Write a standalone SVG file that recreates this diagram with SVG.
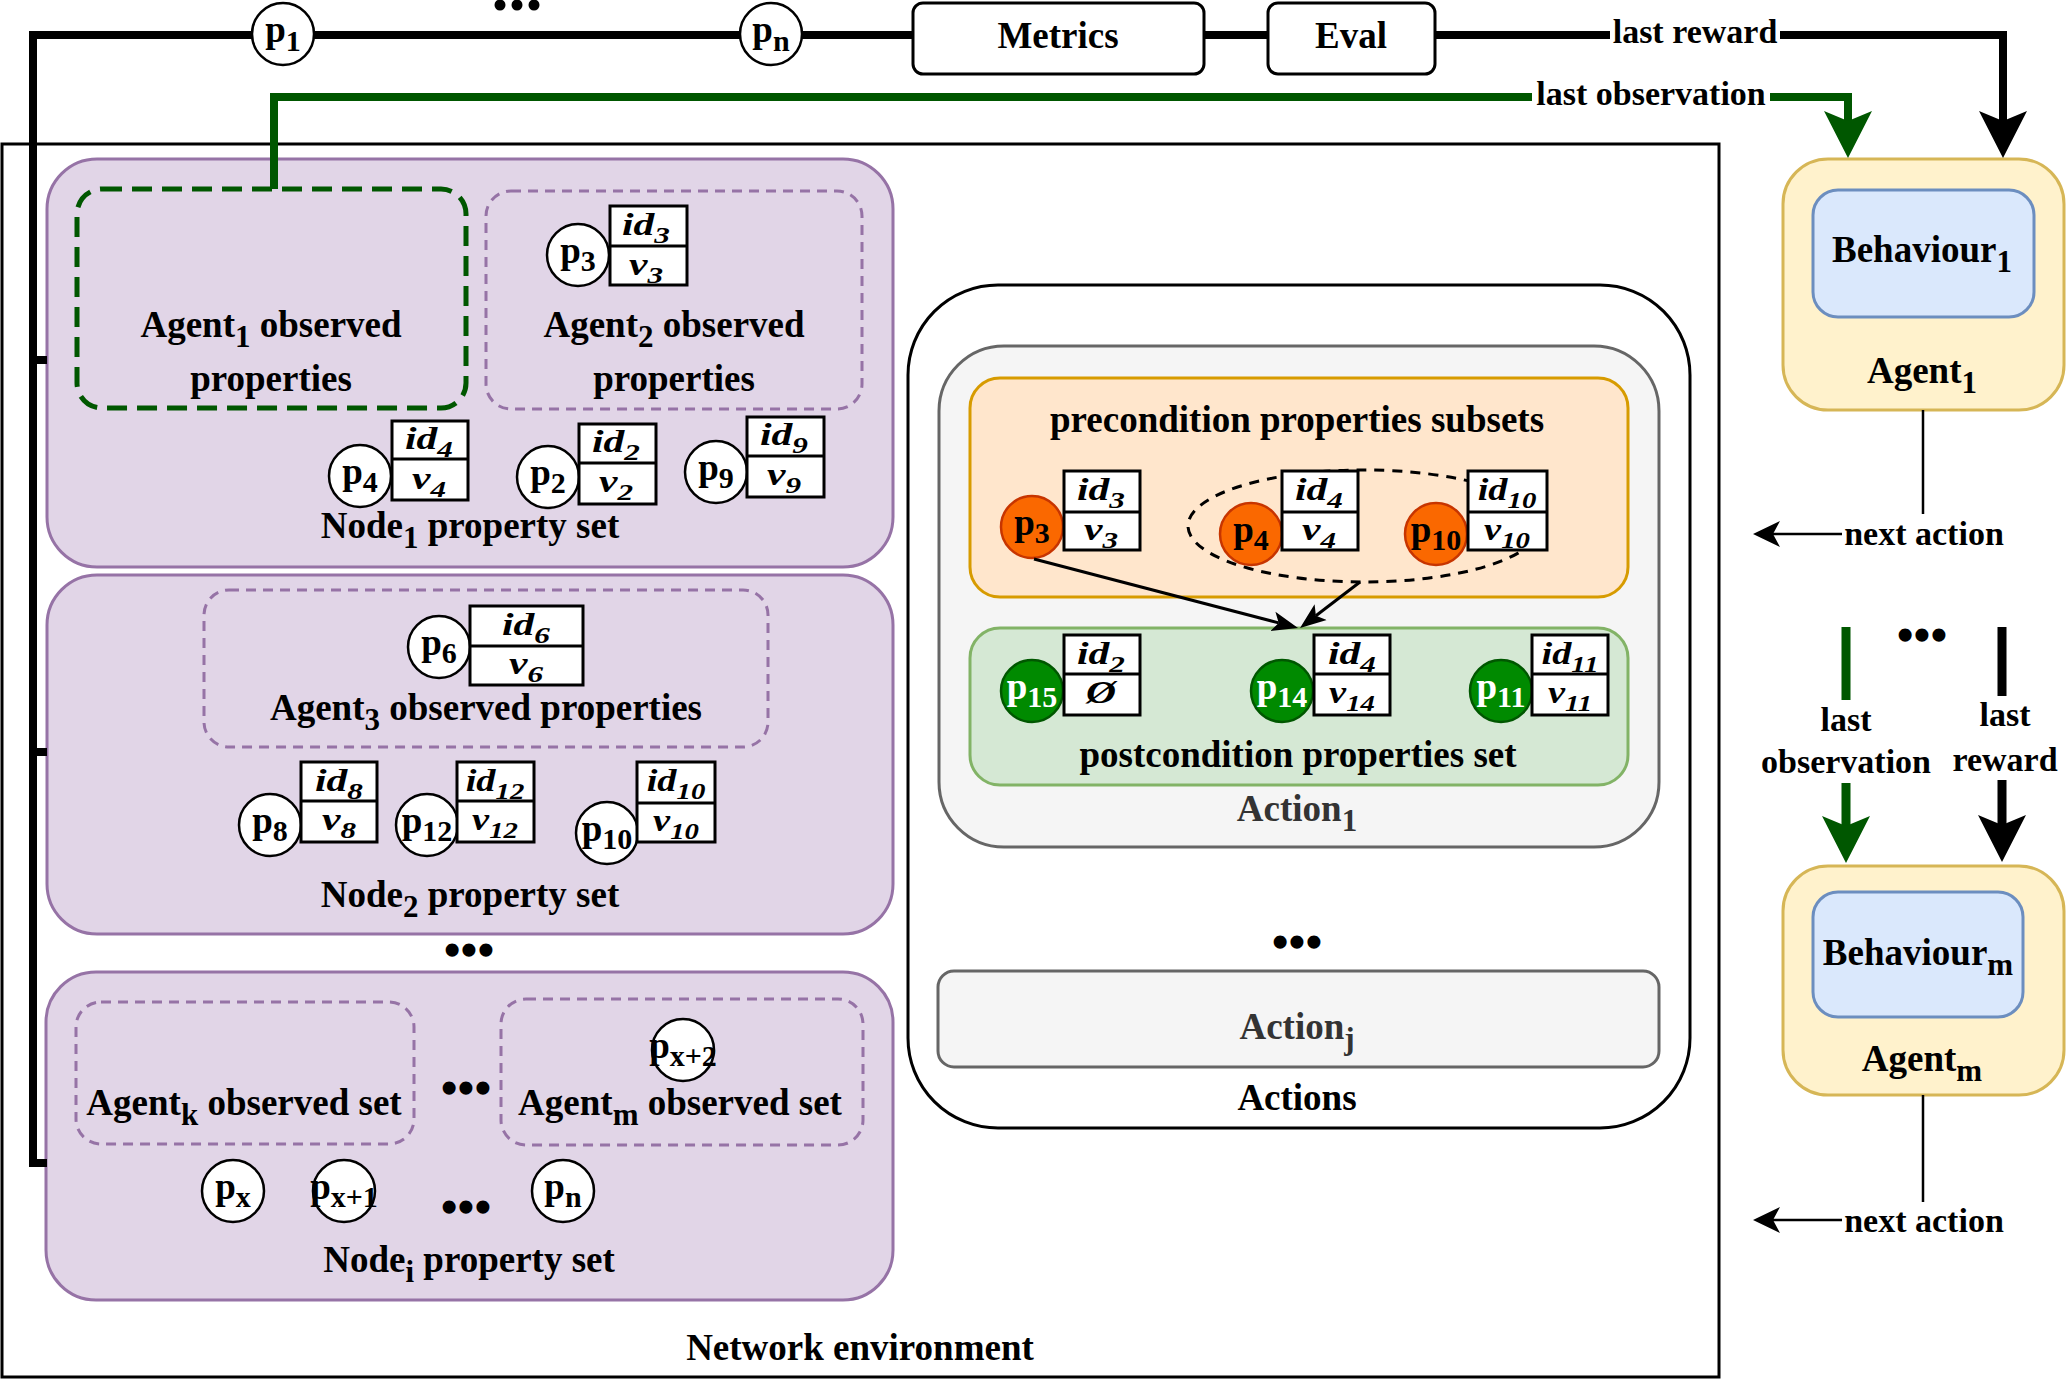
<svg xmlns="http://www.w3.org/2000/svg" width="2066" height="1380" viewBox="0 0 2066 1380">
<defs>
<style>
text{font-family:"Liberation Serif","Times New Roman",serif;font-weight:bold;fill:#000}
.lbl{font-size:37px;text-anchor:middle}
.edge{font-size:34px;text-anchor:middle}
.sub{font-size:31px}
.pt{font-size:37px;text-anchor:middle}
.ps{font-size:30px}
.tt{font-size:32px;font-style:italic;text-anchor:middle}
.ts{font-size:24px}
.gray{fill:#333}
.wt{fill:#fff}
.dots{font-size:48px;text-anchor:middle}
.nbox{fill:#e1d5e7;stroke:#9673a6;stroke-width:3}
.dp{fill:none;stroke:#9673a6;stroke-width:3;stroke-dasharray:10 7}
.dg{fill:none;stroke:#005700;stroke-width:5;stroke-dasharray:20 10}
.pc{fill:#fff;stroke:#000;stroke-width:2.5}
.oc{fill:#fa6800;stroke:#c73500;stroke-width:2.5}
.gc{fill:#008a00;stroke:#005700;stroke-width:2.5}
.tbl{fill:#fff;stroke:#000;stroke-width:3}
.bg{fill:#fff;stroke:none}
</style>
<marker id="ahBlack" viewBox="0 -25 50 50" markerWidth="50" markerHeight="50" refX="10" refY="0" orient="auto" markerUnits="userSpaceOnUse"><path d="M0,-24 L47,0 L0,24 L10,0 Z" fill="#000"/></marker>
<marker id="ahGreen" viewBox="0 -25 50 50" markerWidth="50" markerHeight="50" refX="10" refY="0" orient="auto" markerUnits="userSpaceOnUse"><path d="M0,-24 L47,0 L0,24 L10,0 Z" fill="#005700"/></marker>
<marker id="ahMid" viewBox="0 -14 30 28" markerWidth="30" markerHeight="28" refX="7" refY="0" orient="auto" markerUnits="userSpaceOnUse"><path d="M0,-13 L27,0 L0,13 L7,0 Z" fill="#000"/></marker>
<marker id="ahSmall" viewBox="0 -11 28 22" markerWidth="28" markerHeight="22" refX="6" refY="0" orient="auto" markerUnits="userSpaceOnUse"><path d="M0,-10 L26,0 L0,10 L6,0 Z" fill="#000"/></marker>
</defs>

<g id="network-environment">
<rect x="2" y="144" width="1717" height="1233" fill="#fff" stroke="#000" stroke-width="3"/>
<text class="lbl" x="860" y="1360">Network environment</text>
</g>

<g id="node1">
<rect class="nbox" x="47" y="159" width="846" height="408" rx="50"/>
<g id="agent1-observed">
<rect class="dg" x="77" y="189" width="389" height="219" rx="25"/>
<text class="lbl" x="271" y="337">Agent<tspan class="sub" dy="10">1</tspan><tspan dy="-10"> observed</tspan></text>
<text class="lbl" x="271" y="391">properties</text>
</g>
<g id="agent2-observed">
<rect class="dp" x="486" y="191" width="376" height="218" rx="25"/>
<text class="lbl" x="674" y="337">Agent<tspan class="sub" dy="10">2</tspan><tspan dy="-10"> observed</tspan></text>
<text class="lbl" x="674" y="391">properties</text>
<g id="n1-p3">
<circle class="pc" cx="578" cy="255" r="31"/>
<text class="pt" x="578" y="263">p<tspan class="ps" dy="8">3</tspan></text>
<rect class="tbl" x="610" y="206" width="77" height="79"/><line x1="610" y1="246" x2="687" y2="246" stroke="#000" stroke-width="3"/>
<text class="tt" transform="matrix(1.3 0 0 1 646 0)" x="0" y="235">id<tspan class="ts" dy="8">3</tspan></text>
<text class="tt" transform="matrix(1.3 0 0 1 646 0)" x="0" y="275">v<tspan class="ts" dy="8">3</tspan></text>
</g>
</g>
<g id="n1-p4">
<circle class="pc" cx="360" cy="476" r="31"/>
<text class="pt" x="360" y="484">p<tspan class="ps" dy="8">4</tspan></text>
<rect class="tbl" x="392" y="421" width="76" height="79"/><line x1="392" y1="459" x2="468" y2="459" stroke="#000" stroke-width="3"/>
<text class="tt" transform="matrix(1.3 0 0 1 429 0)" x="0" y="449">id<tspan class="ts" dy="8">4</tspan></text>
<text class="tt" transform="matrix(1.3 0 0 1 429 0)" x="0" y="489">v<tspan class="ts" dy="8">4</tspan></text>
</g>
<g id="n1-p2">
<circle class="pc" cx="548" cy="477" r="31"/>
<text class="pt" x="548" y="485">p<tspan class="ps" dy="8">2</tspan></text>
<rect class="tbl" x="579" y="424" width="77" height="80"/><line x1="579" y1="463" x2="656" y2="463" stroke="#000" stroke-width="3"/>
<text class="tt" transform="matrix(1.3 0 0 1 616 0)" x="0" y="452">id<tspan class="ts" dy="8">2</tspan></text>
<text class="tt" transform="matrix(1.3 0 0 1 616 0)" x="0" y="492">v<tspan class="ts" dy="8">2</tspan></text>
</g>
<g id="n1-p9">
<circle class="pc" cx="716" cy="472" r="31"/>
<text class="pt" x="716" y="480">p<tspan class="ps" dy="8">9</tspan></text>
<rect class="tbl" x="747" y="417" width="77" height="80"/><line x1="747" y1="456" x2="824" y2="456" stroke="#000" stroke-width="3"/>
<text class="tt" transform="matrix(1.3 0 0 1 784 0)" x="0" y="445">id<tspan class="ts" dy="8">9</tspan></text>
<text class="tt" transform="matrix(1.3 0 0 1 784 0)" x="0" y="485">v<tspan class="ts" dy="8">9</tspan></text>
</g>
<text class="lbl" x="470" y="538">Node<tspan class="sub" dy="10">1</tspan><tspan dy="-10"> property set</tspan></text>
</g>

<g id="node2">
<rect class="nbox" x="47" y="575" width="846" height="359" rx="50"/>
<g id="agent3-observed">
<rect class="dp" x="204" y="590" width="564" height="157" rx="25"/>
<g id="n2-p6">
<circle class="pc" cx="439" cy="647" r="31"/>
<text class="pt" x="439" y="655">p<tspan class="ps" dy="8">6</tspan></text>
<rect class="tbl" x="470" y="606" width="113" height="79"/><line x1="470" y1="646" x2="583" y2="646" stroke="#000" stroke-width="3"/>
<text class="tt" transform="matrix(1.3 0 0 1 526 0)" x="0" y="635">id<tspan class="ts" dy="8">6</tspan></text>
<text class="tt" transform="matrix(1.3 0 0 1 526 0)" x="0" y="674">v<tspan class="ts" dy="8">6</tspan></text>
</g>
<text class="lbl" x="486" y="720">Agent<tspan class="sub" dy="10">3</tspan><tspan dy="-10"> observed properties</tspan></text>
</g>
<g id="n2-p8">
<circle class="pc" cx="270" cy="825" r="31"/>
<text class="pt" x="270" y="833">p<tspan class="ps" dy="8">8</tspan></text>
<rect class="tbl" x="301" y="762" width="76" height="80"/><line x1="301" y1="801" x2="377" y2="801" stroke="#000" stroke-width="3"/>
<text class="tt" transform="matrix(1.3 0 0 1 339 0)" x="0" y="791">id<tspan class="ts" dy="8">8</tspan></text>
<text class="tt" transform="matrix(1.3 0 0 1 339 0)" x="0" y="830">v<tspan class="ts" dy="8">8</tspan></text>
</g>
<g id="n2-p12">
<circle class="pc" cx="427" cy="825" r="31"/>
<text class="pt" x="427" y="833">p<tspan class="ps" dy="8">12</tspan></text>
<rect class="tbl" x="457" y="762" width="77" height="80"/><line x1="457" y1="801" x2="534" y2="801" stroke="#000" stroke-width="3"/>
<text class="tt" transform="matrix(1.2 0 0 1 495 0)" x="0" y="791">id<tspan class="ts" dy="8">12</tspan></text>
<text class="tt" transform="matrix(1.2 0 0 1 495 0)" x="0" y="830">v<tspan class="ts" dy="8">12</tspan></text>
</g>
<g id="n2-p10">
<circle class="pc" cx="607" cy="833" r="31"/>
<text class="pt" x="607" y="841">p<tspan class="ps" dy="8">10</tspan></text>
<rect class="tbl" x="637" y="762" width="78" height="80"/><line x1="637" y1="803" x2="715" y2="803" stroke="#000" stroke-width="3"/>
<text class="tt" transform="matrix(1.2 0 0 1 676 0)" x="0" y="791">id<tspan class="ts" dy="8">10</tspan></text>
<text class="tt" transform="matrix(1.2 0 0 1 676 0)" x="0" y="831">v<tspan class="ts" dy="8">10</tspan></text>
</g>
<text class="lbl" x="470" y="907">Node<tspan class="sub" dy="10">2</tspan><tspan dy="-10"> property set</tspan></text>
</g>

<text class="dots" x="469" y="966">•••</text>

<g id="nodei">
<rect class="nbox" x="46" y="972" width="847" height="328" rx="50"/>
<g id="agentk-observed">
<rect class="dp" x="76" y="1002" width="338" height="142" rx="25"/>
<text class="lbl" x="244" y="1115">Agent<tspan class="sub" dy="10">k</tspan><tspan dy="-10"> observed set</tspan></text>
</g>
<text class="dots" x="466" y="1104">•••</text>
<g id="agentm-observed">
<rect class="dp" x="501" y="999" width="362" height="146" rx="25"/>
<text class="lbl" x="680" y="1115">Agent<tspan class="sub" dy="10">m</tspan><tspan dy="-10"> observed set</tspan></text>
<g id="ni-px2">
<circle class="pc" cx="683" cy="1050" r="31"/>
<text class="pt" x="683" y="1058">p<tspan class="ps" font-size="24" dy="8">x+2</tspan></text>
</g>
</g>
<g id="ni-px">
<circle class="pc" cx="233" cy="1191" r="31"/>
<text class="pt" x="233" y="1199">p<tspan class="ps" dy="8">x</tspan></text>
</g>
<g id="ni-px1">
<circle class="pc" cx="344" cy="1191" r="31"/>
<text class="pt" x="344" y="1199">p<tspan class="ps" font-size="24" dy="8">x+1</tspan></text>
</g>
<text class="dots" x="466" y="1223">•••</text>
<g id="ni-pn">
<circle class="pc" cx="563" cy="1191" r="31"/>
<text class="pt" x="563" y="1199">p<tspan class="ps" dy="8">n</tspan></text>
</g>
<text class="lbl" x="469" y="1272">Node<tspan class="sub" dy="10">i</tspan><tspan dy="-10"> property set</tspan></text>
</g>

<g id="actions">
<rect x="908" y="285" width="782" height="843" rx="90" fill="#fff" stroke="#000" stroke-width="3"/>
<g id="action1">
<rect x="939" y="346" width="720" height="501" rx="65" fill="#f5f5f5" stroke="#666" stroke-width="3"/>
<g id="precondition">
<rect x="970" y="378" width="658" height="219" rx="30" fill="#ffe6cc" stroke="#d79b00" stroke-width="3"/>
<text class="lbl" x="1297" y="432">precondition properties subsets</text>
<ellipse cx="1364" cy="526" rx="176" ry="56" fill="none" stroke="#000" stroke-width="3" stroke-dasharray="10 8"/>
<g id="pre-p3">
<circle class="oc" cx="1032" cy="527" r="31"/>
<text class="pt" x="1032" y="535">p<tspan class="ps" dy="8">3</tspan></text>
<rect class="tbl" x="1064" y="471" width="76" height="79"/><line x1="1064" y1="512" x2="1140" y2="512" stroke="#000" stroke-width="3"/>
<text class="tt" transform="matrix(1.3 0 0 1 1101 0)" x="0" y="500">id<tspan class="ts" dy="8">3</tspan></text>
<text class="tt" transform="matrix(1.3 0 0 1 1101 0)" x="0" y="540">v<tspan class="ts" dy="8">3</tspan></text>
</g>
<g id="pre-p4">
<circle class="oc" cx="1251" cy="534" r="31"/>
<text class="pt" x="1251" y="542">p<tspan class="ps" dy="8">4</tspan></text>
<rect class="tbl" x="1282" y="471" width="76" height="79"/><line x1="1282" y1="512" x2="1358" y2="512" stroke="#000" stroke-width="3"/>
<text class="tt" transform="matrix(1.3 0 0 1 1319 0)" x="0" y="500">id<tspan class="ts" dy="8">4</tspan></text>
<text class="tt" transform="matrix(1.3 0 0 1 1319 0)" x="0" y="540">v<tspan class="ts" dy="8">4</tspan></text>
</g>
<g id="pre-p10">
<circle class="oc" cx="1436" cy="534" r="31"/>
<text class="pt" x="1436" y="542">p<tspan class="ps" dy="8">10</tspan></text>
<rect class="tbl" x="1468" y="471" width="79" height="79"/><line x1="1468" y1="512" x2="1547" y2="512" stroke="#000" stroke-width="3"/>
<text class="tt" transform="matrix(1.2 0 0 1 1507 0)" x="0" y="500">id<tspan class="ts" dy="8">10</tspan></text>
<text class="tt" transform="matrix(1.2 0 0 1 1507 0)" x="0" y="540">v<tspan class="ts" dy="8">10</tspan></text>
</g>
</g>
<g id="postcondition">
<rect x="970" y="628" width="658" height="157" rx="30" fill="#d5e8d4" stroke="#82b366" stroke-width="3"/>
<g id="post-p15">
<circle class="gc" cx="1032" cy="691" r="31"/>
<text class="pt wt" x="1032" y="699">p<tspan class="ps" dy="8">15</tspan></text>
<rect class="tbl" x="1064" y="635" width="76" height="80"/><line x1="1064" y1="674" x2="1140" y2="674" stroke="#000" stroke-width="3"/>
<text class="tt" transform="matrix(1.3 0 0 1 1101 0)" x="0" y="664">id<tspan class="ts" dy="8">2</tspan></text>
<text class="tt" transform="matrix(1.3 0 0 1 1101 0)" x="0" y="703">Ø</text>
</g>
<g id="post-p14">
<circle class="gc" cx="1282" cy="691" r="31"/>
<text class="pt wt" x="1282" y="699">p<tspan class="ps" dy="8">14</tspan></text>
<rect class="tbl" x="1314" y="635" width="76" height="80"/><line x1="1314" y1="674" x2="1390" y2="674" stroke="#000" stroke-width="3"/>
<text class="tt" transform="matrix(1.3 0 0 1 1352 0)" x="0" y="664">id<tspan class="ts" dy="8">4</tspan></text>
<text class="tt" transform="matrix(1.2 0 0 1 1352 0)" x="0" y="703">v<tspan class="ts" dy="8">14</tspan></text>
</g>
<g id="post-p11">
<circle class="gc" cx="1501" cy="691" r="31"/>
<text class="pt wt" x="1501" y="699">p<tspan class="ps" dy="8">11</tspan></text>
<rect class="tbl" x="1532" y="635" width="76" height="80"/><line x1="1532" y1="674" x2="1608" y2="674" stroke="#000" stroke-width="3"/>
<text class="tt" transform="matrix(1.2 0 0 1 1570 0)" x="0" y="664">id<tspan class="ts" dy="8">11</tspan></text>
<text class="tt" transform="matrix(1.2 0 0 1 1570 0)" x="0" y="703">v<tspan class="ts" dy="8">11</tspan></text>
</g>
<text class="lbl" x="1298" y="767">postcondition properties set</text>
</g>
<text class="lbl gray" x="1297" y="821">Action<tspan class="sub" dy="10">1</tspan></text>
</g>
<text class="dots" x="1297" y="958">•••</text>
<g id="actionj">
<rect x="938" y="971" width="721" height="96" rx="16" fill="#f5f5f5" stroke="#666" stroke-width="3"/>
<text class="lbl gray" x="1297" y="1039">Action<tspan class="sub" dy="10">j</tspan></text>
</g>
<text class="lbl" x="1297" y="1110">Actions</text>
</g>

<g id="agent1">
<rect x="1783" y="159" width="281" height="251" rx="45" fill="#fff2cc" stroke="#d6b656" stroke-width="3"/>
<g id="behaviour1">
<rect x="1813" y="190" width="221" height="127" rx="25" fill="#dae8fc" stroke="#6c8ebf" stroke-width="3"/>
<text class="lbl" x="1922" y="262">Behaviour<tspan class="sub" dy="10">1</tspan></text>
</g>
<text class="lbl" x="1922" y="383">Agent<tspan class="sub" dy="10">1</tspan></text>
</g>

<g id="agentm">
<rect x="1783" y="866" width="281" height="229" rx="45" fill="#fff2cc" stroke="#d6b656" stroke-width="3"/>
<g id="behaviourm">
<rect x="1813" y="892" width="210" height="125" rx="25" fill="#dae8fc" stroke="#6c8ebf" stroke-width="3"/>
<text class="lbl" x="1918" y="965">Behaviour<tspan class="sub" dy="10">m</tspan></text>
</g>
<text class="lbl" x="1922" y="1071">Agent<tspan class="sub" dy="10">m</tspan></text>
</g>

<g id="connectors" fill="none">
<path d="M47 1163 H33 V35 H913" stroke="#000" stroke-width="8"/>
<path d="M33 360 H47 M33 752 H47" stroke="#000" stroke-width="8"/>
<path d="M1204 35 H1268" stroke="#000" stroke-width="8"/>
<path d="M1435 35 H2003 V121" stroke="#000" stroke-width="8" marker-end="url(#ahBlack)"/>
<path d="M274 189 V97 H1848 V121" stroke="#005700" stroke-width="8" marker-end="url(#ahGreen)"/>
<path d="M1034 559 L1278.7 622.9" stroke="#000" stroke-width="3" marker-end="url(#ahSmall)"/>
<path d="M1360 582 L1315.9 615.8" stroke="#000" stroke-width="3" marker-end="url(#ahSmall)"/>
<path d="M1923 410 V534 H1773" stroke="#000" stroke-width="2.5" marker-end="url(#ahMid)"/>
<path d="M1923 1095 V1220 H1773" stroke="#000" stroke-width="2.5" marker-end="url(#ahMid)"/>
<path d="M1846 627 V826" stroke="#005700" stroke-width="9" marker-end="url(#ahGreen)"/>
<path d="M2002 627 V825" stroke="#000" stroke-width="9" marker-end="url(#ahBlack)"/>
<rect class="bg" x="1610" y="14" width="170" height="40"/>
<text class="edge" x="1695" y="43">last reward</text>
<rect class="bg" x="1532" y="78" width="238" height="38"/>
<text class="edge" x="1651" y="105">last observation</text>
<rect class="bg" x="1842" y="514" width="164" height="40"/>
<text class="edge" x="1924" y="545">next action</text>
<rect class="bg" x="1842" y="1202" width="164" height="40"/>
<text class="edge" x="1924" y="1232">next action</text>
<rect class="bg" x="1758" y="700" width="176" height="83"/>
<text class="edge" x="1846" y="731">last</text>
<text class="edge" x="1846" y="773">observation</text>
<rect class="bg" x="1950" y="696" width="110" height="84"/>
<text class="edge" x="2005" y="726">last</text>
<text class="edge" x="2005" y="771">reward</text>
</g>

<text class="dots" x="1922" y="651">•••</text>

<g id="top-p1">
<circle class="pc" cx="283" cy="34" r="31"/>
<text class="pt" x="283" y="42">p<tspan class="ps" dy="9">1</tspan></text>
</g>
<g id="top-ellipsis" fill="#000">
<circle cx="500" cy="5" r="5.5"/><circle cx="517" cy="5" r="5.5"/><circle cx="534" cy="5" r="5.5"/>
</g>
<g id="top-pn">
<circle class="pc" cx="771" cy="34" r="31"/>
<text class="pt" x="771" y="42">p<tspan class="ps" dy="9">n</tspan></text>
</g>
<g id="metrics">
<rect x="913" y="3" width="291" height="71" rx="10" fill="#fff" stroke="#000" stroke-width="3"/>
<text class="lbl" x="1058" y="48">Metrics</text>
</g>
<g id="eval">
<rect x="1268" y="3" width="167" height="71" rx="10" fill="#fff" stroke="#000" stroke-width="3"/>
<text class="lbl" x="1351" y="48">Eval</text>
</g>
</svg>
